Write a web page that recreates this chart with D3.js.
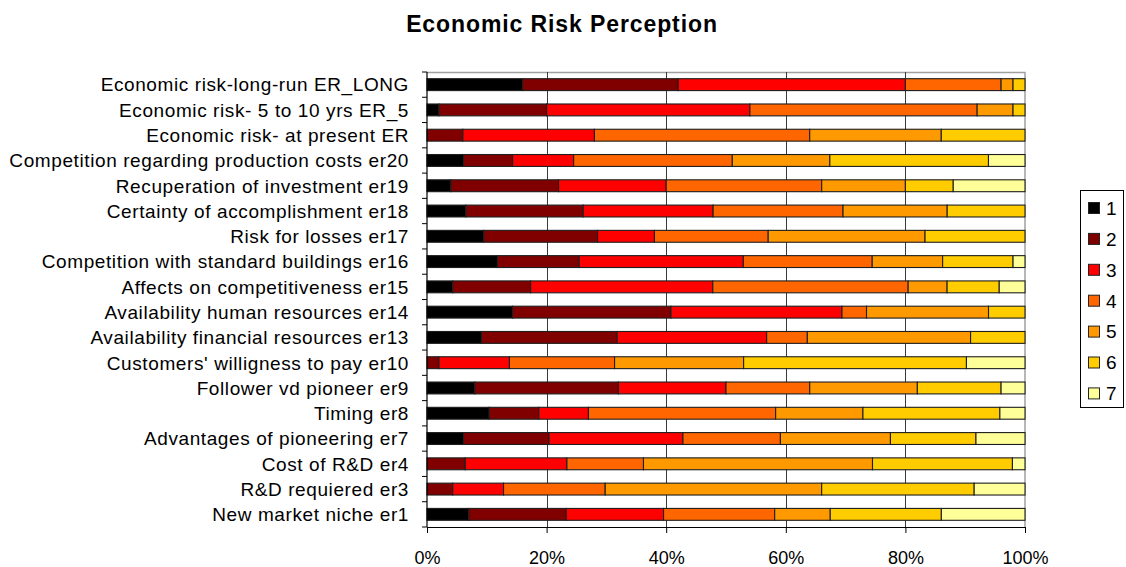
<!DOCTYPE html>
<html>
<head>
<meta charset="utf-8">
<script src="https://cdn.jsdelivr.net/npm/d3@7"></script>
<style>
  html, body { margin: 0; padding: 0; background: #fff; }
  svg { display: block; font-family: "Liberation Sans", Arial, Helvetica, sans-serif; }
</style>
</head>
<body>
<svg id="chart" width="1126" height="567"></svg>
<script>
// Survey items, listed top to bottom
const categories = [
  "Economic risk-long-run ER_LONG",
  "Economic risk- 5 to 10 yrs ER_5",
  "Economic risk- at present ER",
  "Competition regarding production costs er20",
  "Recuperation of investment er19",
  "Certainty of accomplishment er18",
  "Risk for losses er17",
  "Competition with standard buildings er16",
  "Affects on competitiveness er15",
  "Availability human resources er14",
  "Availability financial resources er13",
  "Customers' willigness to pay er10",
  "Follower vd pioneer er9",
  "Timing er8",
  "Advantages of pioneering er7",
  "Cost of R&D er4",
  "R&D requiered er3",
  "New market niche er1"
];

// Share of answers (%) per rating level, one array per level
const level1 = [16, 2, 0, 6.1, 4, 6.5, 9.5, 11.8, 4.3, 14.3, 9.1, 0, 8, 10.4, 6.1, 0, 0, 7.0];
const level2 = [26, 18, 6, 8.2, 18, 19.6, 19.0, 13.7, 13.0, 26.5, 22.7, 2.0, 24, 8.3, 14.3, 6.4, 4.3, 16.3];
const level3 = [38, 34, 22, 10.2, 18, 21.7, 9.5, 27.5, 30.4, 28.6, 25.0, 11.8, 18, 8.3, 22.4, 17.0, 8.5, 16.3];
const level4 = [16, 38, 36, 26.5, 26, 21.7, 19.0, 21.6, 32.6, 4.1, 6.8, 17.6, 14, 31.3, 16.3, 12.8, 17.0, 18.6];
const level5 = [2, 6, 22, 16.3, 14, 17.4, 26.2, 11.8, 6.5, 20.4, 27.3, 21.6, 18, 14.6, 18.4, 38.3, 36.2, 9.3];
const level6 = [2, 2, 14, 26.5, 8, 13.0, 16.7, 11.8, 8.7, 6.1, 9.1, 37.3, 14, 22.9, 14.3, 23.4, 25.5, 18.6];
const level7 = [0, 0, 0, 6.1, 12, 0, 0, 2.0, 4.3, 0, 0, 9.8, 4, 4.2, 8.2, 2.1, 8.5, 14.0];

const seriesNames = ["1", "2", "3", "4", "5", "6", "7"];
const seriesValues = [level1, level2, level3, level4, level5, level6, level7];
const seriesColors = ["#000000", "#800000", "#ff0000", "#ff6600", "#ff9900", "#ffcc00", "#ffff99"];
const xTickValues = [0, 0.2, 0.4, 0.6, 0.8, 1];

// Row table for the stack layout
const rows = categories.map((c, i) => {
  const r = { category: c };
  seriesNames.forEach((s, k) => { r[s] = seriesValues[k][i]; });
  return r;
});

const stacked = d3.stack()
  .keys(seriesNames)
  .offset(d3.stackOffsetExpand)(rows);

const svg = d3.select("#chart");
const plot = { left: 427, right: 1025, top: 72, bottom: 527 };

const x = d3.scaleLinear().domain([0, 1]).range([plot.left, plot.right]);
const y = d3.scaleBand()
  .domain(categories)
  .range([plot.top, plot.bottom])
  .paddingInner(0.53)
  .paddingOuter(0.265);

// Title
svg.append("text")
  .attr("x", 562)
  .attr("y", 32)
  .attr("text-anchor", "middle")
  .attr("font-size", 23)
  .attr("font-weight", "bold")
  .attr("letter-spacing", "0.9px")
  .text("Economic Risk Perception");

// Plot frame (top and right edges)
svg.append("path")
  .attr("d", `M${plot.left},${plot.top + 0.5}H${plot.right}V${plot.bottom}`)
  .attr("fill", "none")
  .attr("stroke", "#a0a0a0")
  .attr("stroke-width", 1.5);

// Vertical gridlines
svg.append("g")
  .selectAll("line")
  .data(xTickValues.filter(v => v > 0 && v < 1))
  .join("line")
  .attr("x1", d => Math.round(x(d)) + 0.5)
  .attr("x2", d => Math.round(x(d)) + 0.5)
  .attr("y1", plot.top)
  .attr("y2", plot.bottom)
  .attr("stroke", "#3a3a3a")
  .attr("stroke-width", 1);

// Stacked bars
svg.append("g")
  .selectAll("g")
  .data(stacked)
  .join("g")
  .attr("fill", (d, i) => seriesColors[i])
  .selectAll("rect")
  .data(d => d)
  .join("rect")
  .attr("x", d => x(d[0]))
  .attr("y", d => y(d.data.category))
  .attr("width", d => Math.max(0, x(d[1]) - x(d[0])))
  .attr("height", y.bandwidth())
  .attr("stroke", d => (d[1] - d[0] > 0 ? "#1e1e1e" : "none"))
  .attr("stroke-width", 1.1);

// Bottom axis
const xAxis = d3.axisBottom(x)
  .tickValues(xTickValues)
  .tickFormat(d3.format(".0%"))
  .tickSize(6)
  .tickPadding(18)
  .tickSizeOuter(0);

const gx = svg.append("g")
  .attr("transform", `translate(0,${plot.bottom})`)
  .call(xAxis);
gx.select(".domain").attr("stroke", "#000").attr("stroke-width", 1.2);
gx.selectAll(".tick line").attr("stroke", "#000");
gx.selectAll(".tick text")
  .attr("font-size", 18)
  .attr("font-family", "'Liberation Sans', Arial, sans-serif")
  .attr("fill", "#000");

// Left axis: line, ticks between categories, labels centred on bars
const gy = svg.append("g");
gy.append("line")
  .attr("x1", plot.left).attr("x2", plot.left)
  .attr("y1", plot.top).attr("y2", plot.bottom)
  .attr("stroke", "#000").attr("stroke-width", 1.2);

const boundaries = d3.range(categories.length + 1).map(i => plot.top + i * y.step());
gy.selectAll("line.tick")
  .data(boundaries)
  .join("line")
  .attr("class", "tick")
  .attr("x1", plot.left - 5).attr("x2", plot.left)
  .attr("y1", d => d).attr("y2", d => d)
  .attr("stroke", "#000");

gy.selectAll("text")
  .data(categories)
  .join("text")
  .attr("x", 409)
  .attr("y", d => y(d) + y.bandwidth() / 2)
  .attr("dy", "0.36em")
  .attr("text-anchor", "end")
  .attr("font-size", 19)
  .attr("letter-spacing", "0.6px")
  .text(d => d);

// Legend
const legend = svg.append("g");
legend.append("rect")
  .attr("x", 1080.5).attr("y", 190.5)
  .attr("width", 43).attr("height", 217)
  .attr("fill", "#fff")
  .attr("stroke", "#000")
  .attr("stroke-width", 1);

const item = legend.selectAll("g.item")
  .data(seriesNames)
  .join("g")
  .attr("class", "item")
  .attr("transform", (d, i) => `translate(0,${208 + i * 30.9})`);

item.append("rect")
  .attr("x", 1088.5).attr("y", -5.5)
  .attr("width", 11).attr("height", 11)
  .attr("fill", (d, i) => seriesColors[i])
  .attr("stroke", "#222");

item.append("text")
  .attr("x", 1106)
  .attr("y", 0)
  .attr("dy", "0.36em")
  .attr("font-size", 19)
  .text(d => d);
</script>
</body>
</html>
